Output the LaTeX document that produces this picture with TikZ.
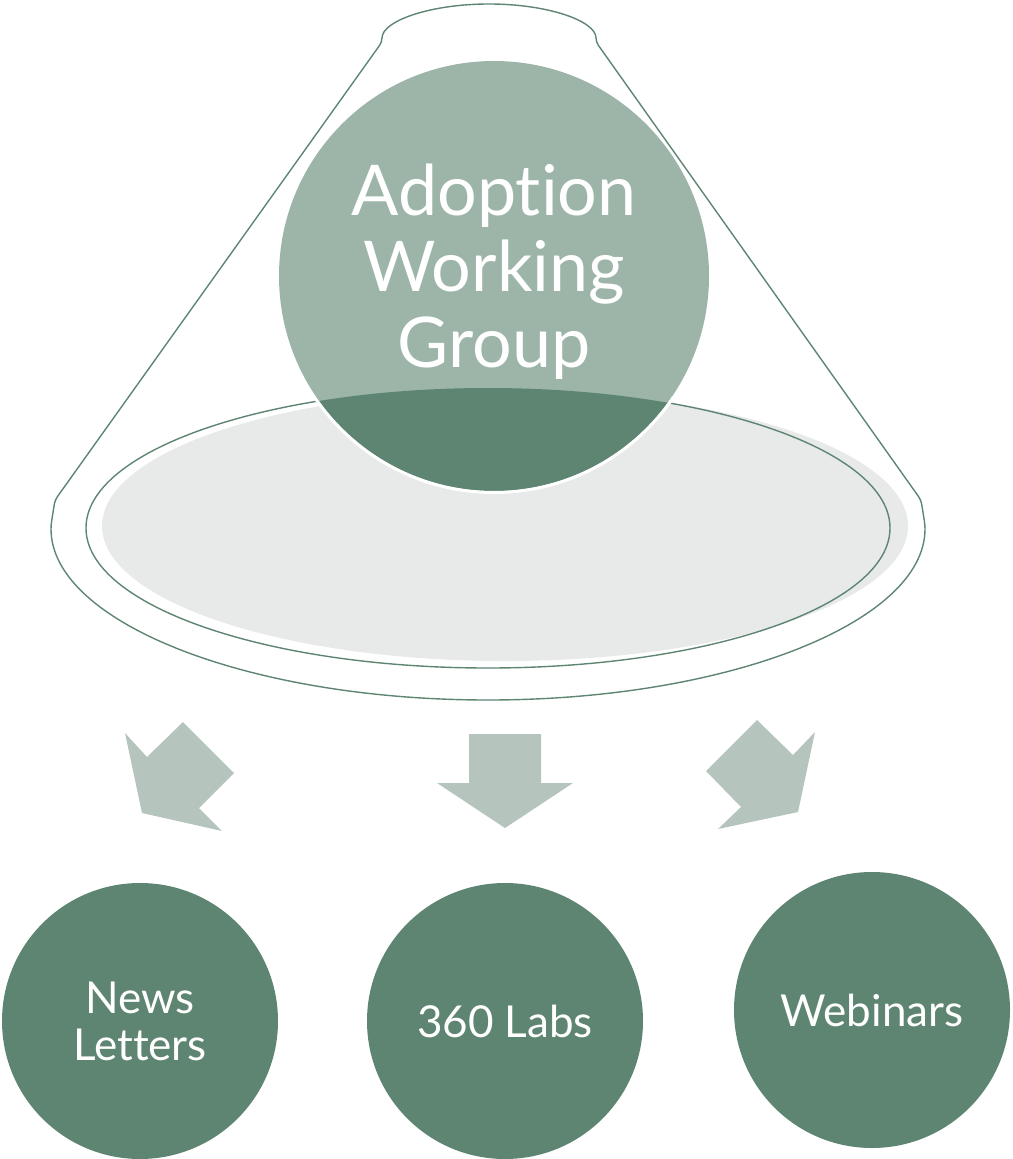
\documentclass[tikz,border=0pt]{standalone}
\usepackage{fontspec}
\setmainfont[Ligatures=NoCommon]{Lato}
\definecolor{dkg}{HTML}{5E8572}
\definecolor{ltg}{HTML}{9DB5A9}
\definecolor{arr}{HTML}{B5C4BC}
\definecolor{gry}{HTML}{E8EAE9}
\tikzset{
  outl/.style={draw=dkg, line width=1.4pt},
  arrowshape/.style={fill=arr, draw=none},
  bubble/.style={circle, fill=dkg, draw=none, minimum size=276pt, inner sep=0pt, text=white, align=center, font=\fontsize{44}{47}\selectfont},
}
\begin{document}
\begin{tikzpicture}[x=1pt,y=1pt]
\useasboundingbox (0,0) rectangle (1012,-1159);
% funnel outline
\draw[outl, rounded corners=4pt] (382,-42) arc[start angle=180,end angle=0,x radius=107,y radius=38]
  -- (921,-500) -- (925,-525) arc[start angle=0,end angle=-180,x radius=437,y radius=175]
  -- (55,-500) -- cycle;
% inner ellipses
\fill[gry] (505,-526) ellipse[x radius=403, y radius=135];
\draw[outl] (488,-528) ellipse[x radius=402, y radius=140];
% big circle
\fill[ltg] (494,-276) circle[radius=215];
\begin{scope}
  \clip (488,-528) ellipse[x radius=402, y radius=140];
  \fill[dkg] (494,-276) circle[radius=215];
\end{scope}
\begin{scope}
  \clip (505,-526) ellipse[x radius=410, y radius=142];
  \draw[white, line width=3pt] (494,-276) circle[radius=216.5];
\end{scope}
\node[text=white, align=center, font=\fontsize{70}{76}\selectfont] (awg) at (494,-272) {Adoption\\Working\\Group};
% arrows
\fill[arrowshape] (125,-733) -- (147,-757) -- (183,-722) -- (234,-773) -- (199,-808) -- (222,-831) -- (142,-813) -- cycle;
\fill[arrowshape] (469,-734) -- (541,-734) -- (541,-783) -- (573,-783) -- (505,-828) -- (437,-783) -- (469,-783) -- cycle;
\fill[arrowshape] (815,-732) -- (793,-755) -- (757,-720) -- (706,-771) -- (741,-807) -- (718,-829) -- (798,-812) -- cycle;
% bottom circles
\node[bubble] (news) at (140,-1021) {News\\Letters};
\node[bubble] (labs) at (505,-1021) {360 Labs};
\node[bubble] (web) at (872,-1010) {Webinars};
\end{tikzpicture}
\end{document}
